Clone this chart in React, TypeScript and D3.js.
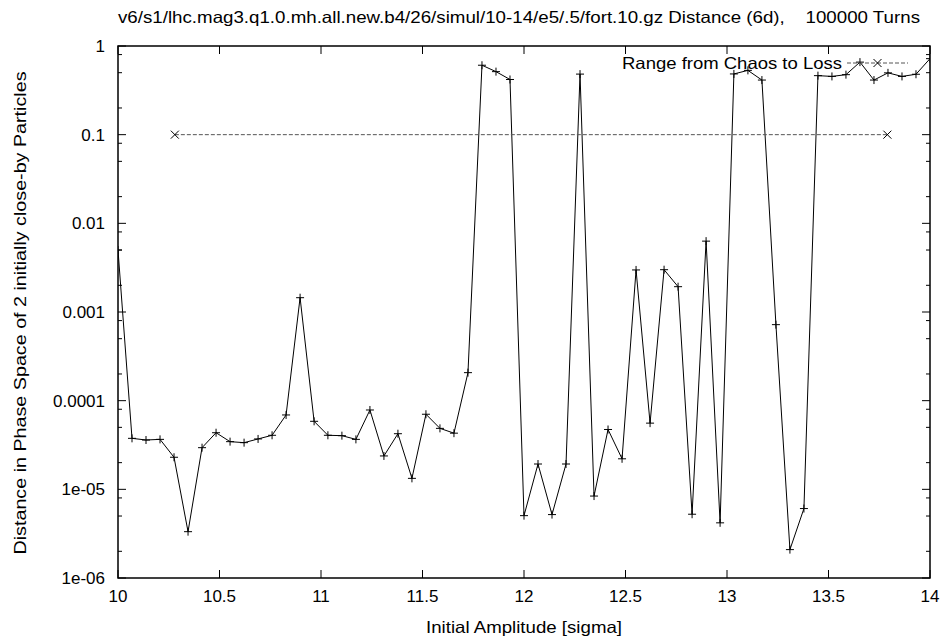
import * as d3 from "d3";
import { useEffect, useRef } from "react";

// amplitude scan, 10 .. 14 sigma
const amplitudes = [
  10.0, 10.069, 10.138, 10.207, 10.276, 10.345, 10.414, 10.483, 10.552, 10.621,
  10.69, 10.759, 10.828, 10.897, 10.966, 11.034, 11.103, 11.172, 11.241, 11.31,
  11.379, 11.448, 11.517, 11.586, 11.655, 11.724, 11.793, 11.862, 11.931, 12.0,
  12.069, 12.138, 12.207, 12.276, 12.345, 12.414, 12.483, 12.552, 12.621, 12.69,
  12.759, 12.828, 12.897, 12.966, 13.034, 13.103, 13.172, 13.241, 13.31, 13.379,
  13.448, 13.517, 13.586, 13.655, 13.724, 13.793, 13.862, 13.931, 14.0,
];

// distance in phase space of 2 close-by particles
const distances = [
  5.0e-3, 3.76e-5, 3.6e-5, 3.66e-5, 2.3e-5, 3.33e-6, 2.95e-5, 4.35e-5, 3.45e-5, 3.36e-5,
  3.7e-5, 4.07e-5, 6.9e-5, 1.45e-3, 5.85e-5, 4.07e-5, 4.03e-5, 3.66e-5, 7.85e-5, 2.38e-5,
  4.24e-5, 1.33e-5, 7.03e-5, 4.87e-5, 4.3e-5, 2.07e-4, 0.607, 0.514, 0.419, 5.05e-6,
  1.93e-5, 5.19e-6, 1.93e-5, 0.482, 8.4e-6, 4.73e-5, 2.21e-5, 2.98e-3, 5.58e-5, 3.0e-3,
  1.93e-3, 5.24e-6, 6.3e-3, 4.19e-6, 0.484, 0.531, 0.413, 7.2e-4, 2.09e-6, 6.07e-6,
  0.463, 0.454, 0.475, 0.658, 0.413, 0.498, 0.454, 0.48, 0.72,
];

// chaos onset .. loss
const rangeX = [10.28, 13.79];
const rangeY = [0.1, 0.1];

const xTicks = [10, 10.5, 11, 11.5, 12, 12.5, 13, 13.5, 14];
const yTicks = [1, 0.1, 0.01, 0.001, 0.0001, 1e-5, 1e-6];
const yTickLabels = ["1", "0.1", "0.01", "0.001", "0.0001", "1e-05", "1e-06"];

const titleText =
  "v6/s1/lhc.mag3.q1.0.mh.all.new.b4/26/simul/10-14/e5/.5/fort.10.gz Distance (6d),    100000 Turns";

const FONT = "'Liberation Sans', Arial, Helvetica, sans-serif";

export default function App() {
  const ref = useRef<SVGSVGElement>(null);

  useEffect(() => {
    const svg = d3.select(ref.current);
    svg.selectAll("*").remove();

    const width = 942;
    const height = 639;
    const margin = { top: 46, right: 12, bottom: 61, left: 118 };
    const plotW = width - margin.left - margin.right;
    const plotH = height - margin.top - margin.bottom;

    const x = d3.scaleLinear().domain([10, 14]).range([0, plotW]);
    const y = d3.scaleLog().domain([1e-6, 1]).range([plotH, 0]);

    const g = svg.append("g").attr("transform", `translate(${margin.left},${margin.top})`);

    // clip
    svg.append("defs").append("clipPath").attr("id", "plotclip")
      .append("rect").attr("width", plotW).attr("height", plotH);

    // ticks, drawn inward on all four sides
    const major = 8;
    const minor = 4;
    const tickG = g.append("g").attr("stroke", "#000").attr("stroke-width", 1);
    xTicks.forEach(t => {
      tickG.append("line").attr("x1", x(t)).attr("x2", x(t)).attr("y1", plotH).attr("y2", plotH - major);
      tickG.append("line").attr("x1", x(t)).attr("x2", x(t)).attr("y1", 0).attr("y2", major);
    });
    yTicks.forEach(t => {
      tickG.append("line").attr("x1", 0).attr("x2", major).attr("y1", y(t)).attr("y2", y(t));
      tickG.append("line").attr("x1", plotW).attr("x2", plotW - major).attr("y1", y(t)).attr("y2", y(t));
    });
    // minor ticks at 2, 5, 8 of each decade
    yTicks.slice(1).forEach(t => {
      [2, 5, 8].forEach(m => {
        const yy = y(t * m);
        tickG.append("line").attr("x1", 0).attr("x2", minor).attr("y1", yy).attr("y2", yy);
        tickG.append("line").attr("x1", plotW).attr("x2", plotW - minor).attr("y1", yy).attr("y2", yy);
      });
    });

    // tick labels
    const labG = svg.append("g").style("font-family", FONT).style("font-size", "17px").attr("fill", "#000");
    xTicks.forEach(t => {
      labG.append("text")
        .attr("x", margin.left + x(t))
        .attr("y", margin.top + plotH + 24)
        .attr("text-anchor", "middle")
        .text(String(t));
    });
    yTicks.forEach((t, i) => {
      labG.append("text")
        .attr("x", margin.left - 13)
        .attr("y", margin.top + y(t) + 6)
        .attr("text-anchor", "end")
        .text(yTickLabels[i]);
    });

    // axis titles + title (the plot font is wider than Arial, so stretch to fit)
    const bigG = svg.append("g").style("font-family", FONT).style("font-size", "16.5px").attr("fill", "#000");
    bigG.append("text")
      .attr("x", margin.left + plotW / 2)
      .attr("y", height - 6)
      .attr("text-anchor", "middle")
      .attr("textLength", 196)
      .attr("lengthAdjust", "spacingAndGlyphs")
      .text("Initial Amplitude [sigma]");

    bigG.append("text")
      .attr("transform", "rotate(-90)")
      .attr("x", -(margin.top + plotH / 2 + 1))
      .attr("y", 26)
      .attr("text-anchor", "middle")
      .attr("textLength", 483)
      .attr("lengthAdjust", "spacingAndGlyphs")
      .text("Distance in Phase Space of 2 initially close-by Particles");

    bigG.append("text")
      .attr("x", 519)
      .attr("y", 23)
      .attr("text-anchor", "middle")
      .attr("textLength", 802)
      .attr("lengthAdjust", "spacingAndGlyphs")
      .style("white-space", "pre")
      .attr("xml:space", "preserve")
      .text(titleText);

    // data line
    const pts = amplitudes.map((a, i) => [a, distances[i]] as [number, number]);
    const line = d3.line<[number, number]>().x(d => x(d[0])).y(d => y(d[1]));
    const dataG = g.append("g").attr("clip-path", "url(#plotclip)");
    dataG.append("path").datum(pts).attr("d", line)
      .attr("fill", "none").attr("stroke", "#000").attr("stroke-width", 1);

    const plus = (sel: any, cx: number, cy: number, s: number) => {
      sel.append("path")
        .attr("d", `M${cx - s},${cy}H${cx + s}M${cx},${cy - s}V${cy + s}`)
        .attr("stroke", "#000").attr("stroke-width", 1).attr("fill", "none");
    };
    const cross = (sel: any, cx: number, cy: number, s: number, c: string) => {
      sel.append("path")
        .attr("d", `M${cx - s},${cy - s}L${cx + s},${cy + s}M${cx - s},${cy + s}L${cx + s},${cy - s}`)
        .attr("stroke", c).attr("stroke-width", 1).attr("fill", "none");
    };
    pts.forEach(d => plus(dataG, x(d[0]), y(d[1]), 4));

    // range from chaos to loss
    const rangePts = rangeX.map((a, i) => [a, rangeY[i]] as [number, number]);
    dataG.append("path").datum(rangePts).attr("d", line)
      .attr("fill", "none").attr("stroke", "#555").attr("stroke-width", 1)
      .attr("stroke-dasharray", "4,2");
    rangePts.forEach(d => cross(dataG, x(d[0]), y(d[1]), 4, "#000"));

    // legend
    const ly = 17;
    const lx1 = 729;
    const lx2 = 790;
    g.append("text")
      .attr("x", lx1 - 5)
      .attr("y", ly + 6)
      .attr("text-anchor", "end")
      .attr("textLength", 220)
      .attr("lengthAdjust", "spacingAndGlyphs")
      .style("font-family", FONT)
      .style("font-size", "16.5px")
      .text("Range from Chaos to Loss");
    g.append("line").attr("x1", lx1).attr("x2", lx2).attr("y1", ly).attr("y2", ly)
      .attr("stroke", "#555").attr("stroke-width", 1).attr("stroke-dasharray", "4,2");
    cross(g, (lx1 + lx2) / 2, ly, 4, "#000");

    // frame
    g.append("rect").attr("width", plotW).attr("height", plotH)
      .attr("fill", "none").attr("stroke", "#000").attr("stroke-width", 1.5);
  }, []);

  return (
    <svg
      ref={ref}
      width={942}
      height={639}
      style={{ position: "absolute", left: 0, top: 0, background: "#fff" }}
    />
  );
}
